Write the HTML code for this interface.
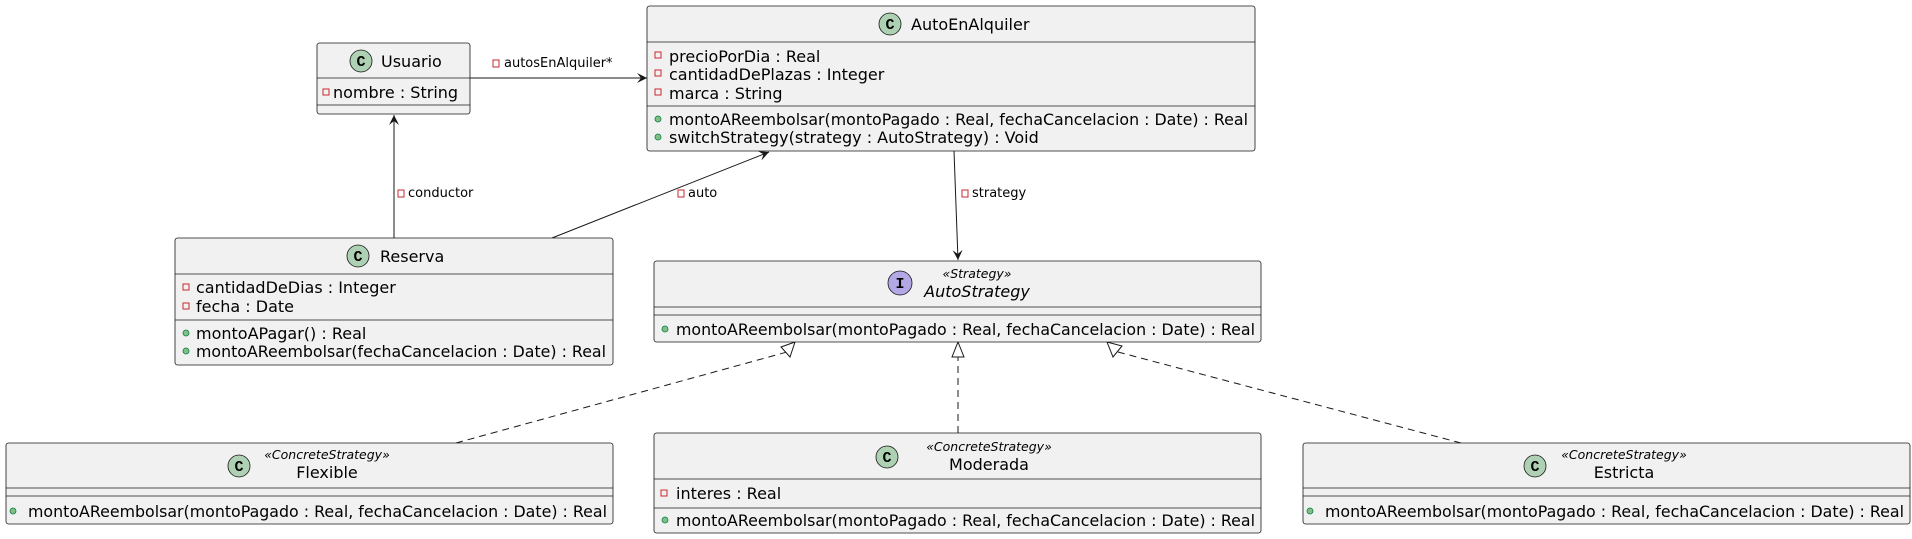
<!DOCTYPE html>
<html><head><meta charset="utf-8"><style>
html,body{margin:0;padding:0;background:#fff;}
svg{display:block;font-family:"DejaVu Sans","Liberation Sans",sans-serif;}
</style></head><body>
<svg width="1912" height="539" viewBox="0 0 1912 539" xmlns="http://www.w3.org/2000/svg">
<defs>
<marker id="ar" markerWidth="12" markerHeight="12" refX="10" refY="5" orient="auto" markerUnits="userSpaceOnUse"><path d="M0,0 L10,5 L0,10 L4,5 Z" fill="#181818"/></marker>
</defs>
<g stroke="#181818" stroke-width="1" fill="none">
<line x1="470" y1="78" x2="647" y2="78" marker-end="url(#ar)"/>
<line x1="394" y1="238" x2="394" y2="115" marker-end="url(#ar)"/>
<line x1="552" y1="238" x2="769" y2="152" marker-end="url(#ar)"/>
<line x1="954" y1="151" x2="958" y2="260" marker-end="url(#ar)"/>
<g stroke-dasharray="7,5">
<line x1="456" y1="443" x2="787" y2="352"/>
<line x1="958" y1="433" x2="958" y2="357"/>
<line x1="1461" y1="443" x2="1118" y2="352"/>
</g>
<path d="M795,342 L790,357 L781,347 Z" fill="#fff"/>
<path d="M958,342 L964,357 L952,357 Z" fill="#fff"/>
<path d="M1107,342 L1122,346 L1113,357 Z" fill="#fff"/>
</g>
<g font-size="13" fill="#000">
<rect x="493" y="60" width="6" height="7" fill="none" stroke="#c82930"/><text x="504" y="67">autosEnAlquiler*</text>
<rect x="398" y="190" width="6" height="7" fill="none" stroke="#c82930"/><text x="408" y="197">conductor</text>
<rect x="678" y="190" width="6" height="7" fill="none" stroke="#c82930"/><text x="688" y="197">auto</text>
<rect x="962" y="190" width="6" height="7" fill="none" stroke="#c82930"/><text x="972" y="197">strategy</text>
</g>
<g stroke="#181818" stroke-width="0.8" fill="#f1f1f1">
<rect x="317" y="43" width="153" height="71" rx="2.5"/>
<rect x="647" y="6" width="608" height="145" rx="2.5"/>
<rect x="175" y="238" width="438" height="127" rx="2.5"/>
<rect x="654" y="261" width="607" height="81" rx="2.5"/>
<rect x="6" y="443" width="607" height="81" rx="2.5"/>
<rect x="654" y="433" width="607" height="100" rx="2.5"/>
<rect x="1303" y="443" width="607" height="81" rx="2.5"/>
<path d="M317,78H470M317,105H470 M647,42H1255M647,106H1255 M175,274H613M175,320H613 M654,307H1261M654,315H1261 M6,488H613M6,496H613 M654,479H1261M654,508H1261 M1303,488H1910M1303,496H1910"/>
<circle cx="361" cy="61" r="11" fill="#add1b2"/>
<circle cx="890" cy="24" r="11" fill="#add1b2"/>
<circle cx="358" cy="256" r="11" fill="#add1b2"/>
<circle cx="900" cy="283" r="12" fill="#b4a7e5"/>
<circle cx="239" cy="466" r="11" fill="#add1b2"/>
<circle cx="887" cy="457" r="11" fill="#add1b2"/>
<circle cx="1535" cy="466" r="11" fill="#add1b2"/>
</g>
<g font-size="15" font-weight="bold" text-anchor="middle" fill="#000" font-family="Liberation Mono,monospace">
<text x="361" y="66">C</text><text x="890" y="29">C</text><text x="358" y="261">C</text><text x="900" y="288">I</text>
<text x="239" y="471">C</text><text x="887" y="462">C</text><text x="1535" y="471">C</text>
</g>
<g font-size="16" fill="#000">
<text x="381" y="67">Usuario</text>
<text x="911" y="30">AutoEnAlquiler</text>
<text x="380" y="262">Reserva</text>
<text x="977" y="297" font-style="italic" text-anchor="middle">AutoStrategy</text>
<text x="977" y="278" font-size="12.5" font-style="italic" text-anchor="middle">«Strategy»</text>
<text x="327" y="478" text-anchor="middle">Flexible</text>
<text x="327" y="459" font-size="12.5" font-style="italic" text-anchor="middle">«ConcreteStrategy»</text>
<text x="989" y="470" text-anchor="middle">Moderada</text>
<text x="989" y="451" font-size="12.5" font-style="italic" text-anchor="middle">«ConcreteStrategy»</text>
<text x="1624" y="478" text-anchor="middle">Estricta</text>
<text x="1624" y="459" font-size="12.5" font-style="italic" text-anchor="middle">«ConcreteStrategy»</text>
</g>
<g fill="none" stroke="#c82930" stroke-width="1">
<rect x="323" y="89" width="6" height="6"/>
<rect x="655" y="52" width="6" height="6"/><rect x="655" y="70" width="6" height="6"/><rect x="655" y="89" width="6" height="6"/>
<rect x="183" y="284" width="6" height="6"/><rect x="183" y="303" width="6" height="6"/>
<rect x="661" y="490" width="6" height="6"/>
</g>
<g fill="#84be84" stroke="#038048" stroke-width="0.8">
<circle cx="658" cy="119" r="3"/><circle cx="658" cy="137" r="3"/>
<circle cx="186" cy="333" r="3"/><circle cx="186" cy="351" r="3"/>
<circle cx="665" cy="329" r="3"/>
<circle cx="13" cy="511" r="3"/>
<circle cx="665" cy="520" r="3"/>
<circle cx="1310" cy="511" r="3"/>
</g>
<g font-size="16" fill="#000">
<text x="333" y="98">nombre : String</text>
<text x="669" y="62">precioPorDia : Real</text>
<text x="669" y="80">cantidadDePlazas : Integer</text>
<text x="669" y="99">marca : String</text>
<text x="669" y="125" textLength="579" lengthAdjust="spacingAndGlyphs">montoAReembolsar(montoPagado : Real, fechaCancelacion : Date) : Real</text>
<text x="669" y="143">switchStrategy(strategy : AutoStrategy) : Void</text>
<text x="196" y="293">cantidadDeDias : Integer</text>
<text x="196" y="312">fecha : Date</text>
<text x="196" y="339">montoAPagar() : Real</text>
<text x="196" y="357" textLength="410" lengthAdjust="spacingAndGlyphs">montoAReembolsar(fechaCancelacion : Date) : Real</text>
<text x="676" y="335" textLength="579" lengthAdjust="spacingAndGlyphs">montoAReembolsar(montoPagado : Real, fechaCancelacion : Date) : Real</text>
<text x="28" y="517" textLength="579" lengthAdjust="spacingAndGlyphs">montoAReembolsar(montoPagado : Real, fechaCancelacion : Date) : Real</text>
<text x="676" y="499">interes : Real</text>
<text x="676" y="526" textLength="579" lengthAdjust="spacingAndGlyphs">montoAReembolsar(montoPagado : Real, fechaCancelacion : Date) : Real</text>
<text x="1325" y="517" textLength="579" lengthAdjust="spacingAndGlyphs">montoAReembolsar(montoPagado : Real, fechaCancelacion : Date) : Real</text>
</g>
</svg>
</body></html>
